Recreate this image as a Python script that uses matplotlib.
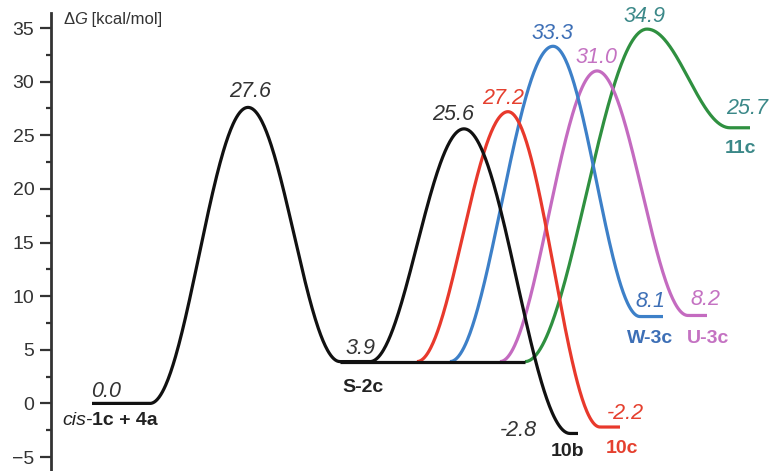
import numpy as np
import matplotlib
matplotlib.use("Agg")
import matplotlib.pyplot as plt

plt.rcParams['font.family'] = ['Liberation Sans', 'DejaVu Sans']

# Stationary points along the reaction coordinate: (position, ΔG in kcal/mol)
path_main = [(4.1, 0.0), (9.9, 0.0), (19.7, 27.6), (28.9, 3.9), (31.9, 3.9),
             (41.3, 25.6), (51.9, -2.8), (52.7, -2.8)]
path_plateau = [(28.9, 3.9), (47.4, 3.9)]
path_10c = [(36.6, 3.9), (45.7, 27.2), (54.9, -2.2), (56.9, -2.2)]
path_w3c = [(39.9, 3.9), (50.2, 33.3), (58.9, 8.1), (61.2, 8.1)]
path_u3c = [(44.9, 3.9), (54.6, 31.0), (63.7, 8.2), (65.6, 8.2)]
path_11c = [(47.4, 3.9), (59.6, 34.9), (67.9, 25.7), (69.9, 25.7)]

line_black = "#111111"
line_red = "#e8392c"
line_blue = "#3d80c8"
line_purple = "#c46bc0"
line_green = "#2f9040"

text_dark = "#333333"
text_red = "#e5402f"
text_blue = "#3d6fb6"
text_purple = "#c472c2"
text_teal = "#3b8888"


def profile(knots, n=120):
    """Join stationary points with cosine-shaped segments (zero slope at each point)."""
    xs, ys = [], []
    for (x0, y0), (x1, y1) in zip(knots[:-1], knots[1:]):
        t = np.linspace(0, 1, n)
        s = 0.5 - 0.5 * np.cos(np.pi * t)
        xs.append(x0 + (x1 - x0) * t)
        ys.append(y0 + (y1 - y0) * s)
    return np.concatenate(xs), np.concatenate(ys)


W, H = 771, 471
fig = plt.figure(figsize=(W / 100, H / 100), dpi=100)
ax = fig.add_axes([51 / W, 0, 1 - 51 / W, (H - 13) / H])
ax.set_xlim(0, 72)
ax.set_ylim(-6.3, 36.4)

lw = 2.3
for knots, col, z in [(path_11c, line_green, 2), (path_u3c, line_purple, 3),
                      (path_w3c, line_blue, 4), (path_10c, line_red, 5),
                      (path_plateau, line_black, 6), (path_main, line_black, 7)]:
    x, y = profile(knots)
    ax.plot(x, y, color=col, lw=lw, solid_capstyle='butt', zorder=z, clip_on=False)

# axis styling
for side in ("top", "right", "bottom"):
    ax.spines[side].set_visible(False)
ax.spines["left"].set_linewidth(2.0)
ax.spines["left"].set_color("#333333")
ax.set_xticks([])
ax.set_yticks(np.arange(-5, 36, 5))
ax.set_yticks(np.arange(-2.5, 36, 5), minor=True)
ax.tick_params(axis='y', which='major', length=8, width=1.6, color="#333333",
               labelsize=14, labelcolor="#333333", pad=4)
ax.tick_params(axis='y', which='minor', length=3.5, width=1.6, color="#333333")
ax.patch.set_alpha(0)

VAL_SIZE = 15.5
NAME_SIZE = 14


def val(text, xy, dx, dy, color=text_dark, ha='center'):
    ax.annotate(text, xy=xy, xytext=(dx, dy), textcoords='offset pixels',
                ha=ha, va='baseline', fontsize=VAL_SIZE, style='italic', color=color)


def name(text, xy, dx, dy, color="#222222"):
    ax.annotate(text, xy=xy, xytext=(dx, dy), textcoords='offset pixels',
                ha='center', va='baseline', fontsize=NAME_SIZE, weight='bold',
                color=color)


# energy values
val("0.0", path_main[0], -1, 6, ha='left')
val("27.6", path_main[2], 2, 10)
val("3.9", (30.9, 3.9), 0, 8)
val("25.6", path_main[5], -11, 9)
val("-2.8", path_main[6], -52, -3)
val("27.2", path_10c[1], -5, 8, color=text_red)
val("-2.2", path_10c[3], 5, 8, color=text_red)
val("33.3", path_w3c[1], -1, 7, color=text_blue)
val("8.1", path_w3c[3], -13, 10, color=text_blue)
val("31.0", path_u3c[1], -1, 8, color=text_purple)
val("8.2", path_u3c[3], -2, 10, color=text_purple)
val("34.9", path_11c[1], -2, 7, color=text_teal)
val("25.7", path_11c[3], -3, 14, color=text_teal)

# species names
name("S-2c", (30.9, 3.9), 3, -30)
name("10b", path_main[7], -10, -23)
name("10c", path_10c[3], 2, -26, color=text_red)
name("W-3c", path_w3c[3], -13, -26, color=text_blue)
name("U-3c", path_u3c[3], 1, -28, color=text_purple)
name("11c", path_11c[3], -9, -25, color=text_teal)

# starting material: italic prefix followed by bold compound labels
t_cis = ax.annotate("cis-", xy=(path_main[0][0], 0), xytext=(-30, -22),
                    textcoords='offset pixels', ha='left', va='baseline',
                    fontsize=NAME_SIZE, style='italic', color="#222222")
ax.annotate("1c + 4a", xy=(1, 0), xycoords=t_cis, ha='left', va='bottom',
            fontsize=NAME_SIZE, weight='bold', color="#222222")

# axis title: ΔG [kcal/mol]
t_d = ax.text(1.2, 35.4, "Δ", ha='left', va='baseline', fontsize=12, color="#333333")
t_g = ax.annotate("G", xy=(1, 0), xycoords=t_d, ha='left', va='bottom',
                  fontsize=12, style='italic', color="#333333")
ax.annotate(" [kcal/mol]", xy=(1, 0), xycoords=t_g, ha='left', va='bottom',
            fontsize=12, color="#333333")

fig.savefig("out.png", dpi=100, facecolor="white")
